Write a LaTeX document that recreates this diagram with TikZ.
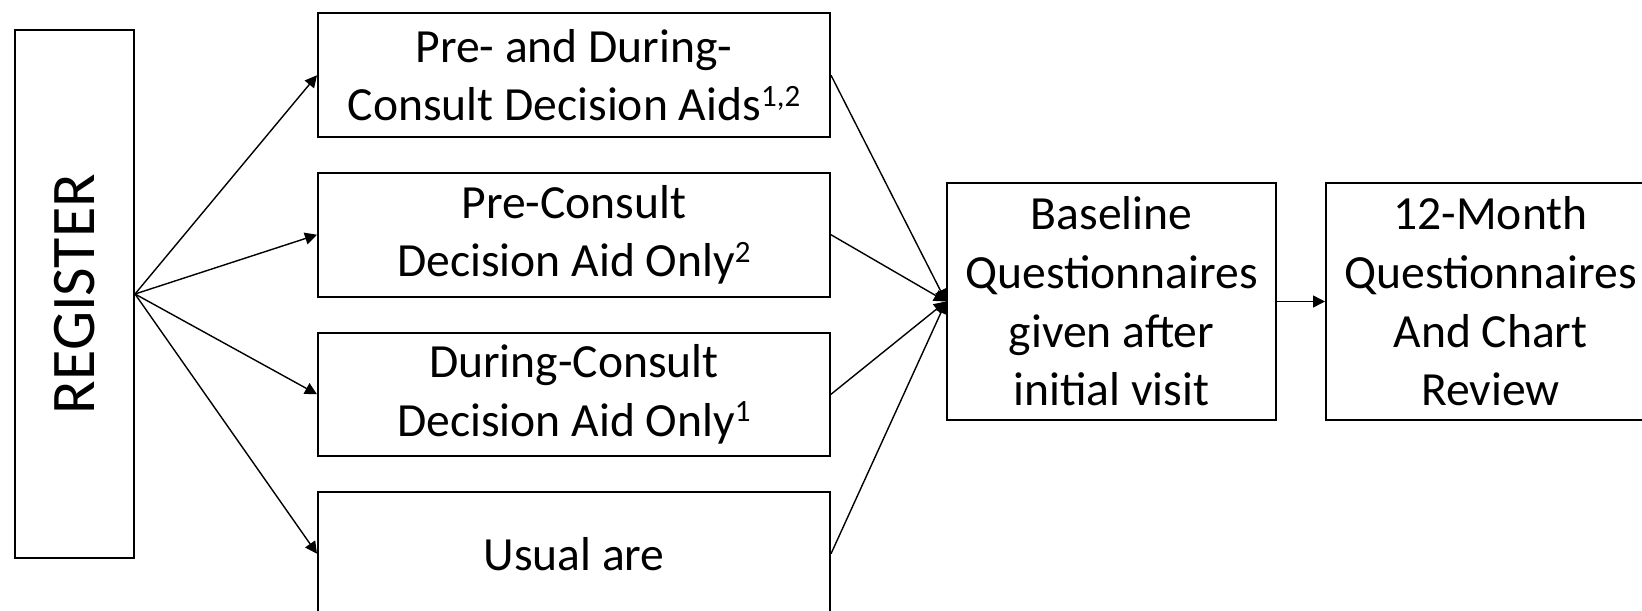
\documentclass[tikz,border=0pt]{standalone}
\usepackage{fontspec}
\setmainfont{Carlito}
\usetikzlibrary{arrows.meta}
\tikzset{box/.style={draw=black, line width=1pt, inner sep=1pt, align=center, font=\fontsize{23.8}{29.3}\selectfont}}
\newcommand{\upnum}[1]{\raisebox{0.3em}{\fontsize{15.5}{15.5}\selectfont #1}}

\begin{document}
\begin{tikzpicture}[x=0.5pt, y=-0.5pt]
\tikzstyle{arr} = [line width=0.7pt, -{Triangle[length=6pt, width=6pt]}]
\tikzstyle{arm} = [box, minimum width=256pt, minimum height=61.75pt]
\tikzstyle{result} = [box, minimum width=164.5pt, minimum height=118.5pt]
\useasboundingbox (0, 0) rectangle (1642, 610);

\node[box, minimum width=59.5pt, minimum height=264pt, font=\fontsize{31}{37}\selectfont](reg) at (74.5, 294){\rotatebox{90}{REGISTER}};

\node[arm](both) at (574, 75.25){Pre- and During-\\Consult Decision Aids\upnum{1,2}};
\node[arm](pre) at (574, 234.75){Pre-Consult\\Decision Aid Only\upnum{2}};
\node[arm](during) at (574, 394.25){During-Consult\\Decision Aid Only\upnum{1}};
\node[arm](usual) at (574, 553.75){Usual are};

\node[result](base) at (1111.5, 301.5){Baseline\\Questionnaires\\given after\\initial visit};
\node[result](month) at (1490.5, 301.5){12-Month\\Questionnaires\\And Chart\\Review};

\draw[arr] (reg.east) -- (both.west);
\draw[arr] (reg.east) -- (pre.west);
\draw[arr] (reg.east) -- (during.west);
\draw[arr] (reg.east) -- (usual.west);

\draw[arr] (both.east) -- (base.west);
\draw[arr] (pre.east) -- (base.west);
\draw[arr] (during.east) -- (base.west);
\draw[arr] (usual.east) -- (base.west);

\draw[arr] (base.east) -- (month.west);

\end{tikzpicture}
\end{document}
